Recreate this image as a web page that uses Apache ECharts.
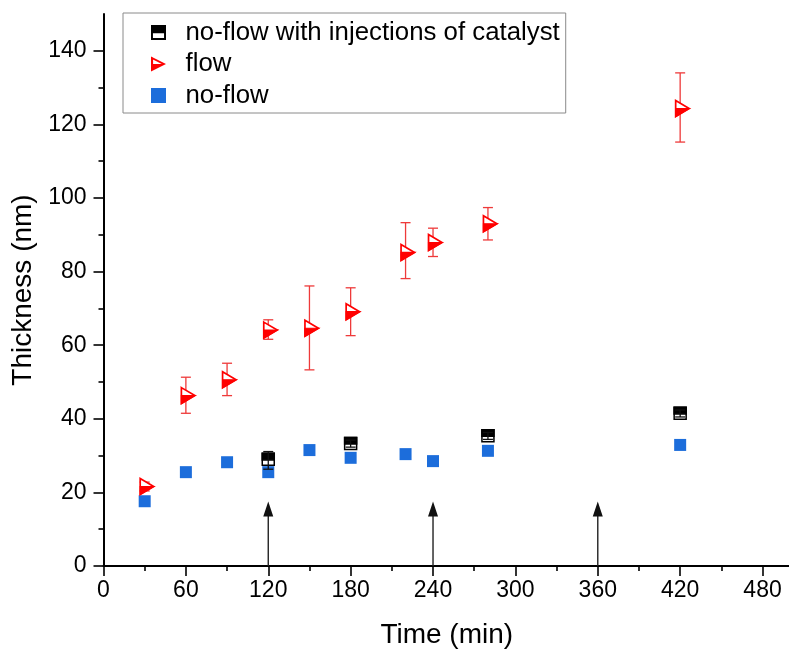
<!DOCTYPE html>
<html><head><meta charset="utf-8">
<script src="https://cdn.jsdelivr.net/npm/echarts@6/dist/echarts.min.js"></script>
<style>html,body{margin:0;padding:0;background:#fff}#c{width:789px;height:651px}</style>
</head><body><div id="c"></div>
<script>
// ---- data ----
const times = [30, 60, 90, 120, 150, 180, 220, 240, 280, 420];
const flowMean = [21.6, 46.3, 50.6, 64.1, 64.6, 69.1, 85.2, 87.9, 93.0, 124.3];
const flowLow  = [20.4, 41.5, 46.3, 61.6, 53.3, 62.6, 78.1, 84.1, 88.6, 115.2];
const flowHigh = [22.8, 51.3, 55.1, 66.9, 76.1, 75.6, 93.3, 91.8, 97.4, 134.0];
const noFlow   = [17.6, 25.5, 28.2, 25.5, 31.5, 29.4, 30.4, 28.5, 31.3, 32.9];
const injTimes = [120, 180, 280, 420];
const injMean  = [29.0, 33.3, 35.4, 41.5];
const injLow   = [26.3, 32.3, 34.4, 40.5];
const injHigh  = [31.1, 34.2, 36.3, 42.4];
const arrowTimes = [120, 240, 360];
const arrowTop = 17.5;
const xTicks = [0, 60, 120, 180, 240, 300, 360, 420, 480];
const xMinorTicks = [30, 90, 150, 210, 270, 330, 390, 450];
const yTicks = [0, 20, 40, 60, 80, 100, 120, 140];
const yMinorTicks = [10, 30, 50, 70, 90, 110, 130];
const names = ['no-flow with injections of catalyst', 'flow', 'no-flow'];

// ---- styles ----
const FONT = "'Liberation Sans', Arial, sans-serif";
const RED = '#ff0000';
const BLUE = '#1c6ddb';
const triIcon = 'path://M0 50L100 50L0 100Z M0 0L14 7L14 50L0 50Z M0 0L100 50L72 50L0 14Z';
const sqHalfIcon = 'path://M0 0L100 0L100 55L0 55Z M0 55L13 55L13 100L0 100Z M87 55L100 55L100 100L87 100Z M0 87L100 87L100 100L0 100Z';
const sqPath = 'path://M0 0L100 0L100 100L0 100Z';

function errRender(color, capW) {
  return function (params, api) {
    const x = api.value(0), lo = api.value(1), hi = api.value(2);
    const a = api.coord([x, lo]), b = api.coord([x, hi]);
    const h = capW / 2;
    const st = { stroke: color, lineWidth: 1.3 };
    return { type: 'group', children: [
      { type: 'line', shape: { x1: a[0], y1: a[1], x2: b[0], y2: b[1] }, style: st },
      { type: 'line', shape: { x1: a[0] - h, y1: a[1], x2: a[0] + h, y2: a[1] }, style: st },
      { type: 'line', shape: { x1: b[0] - h, y1: b[1], x2: b[0] + h, y2: b[1] }, style: st }
    ]};
  };
}
function triRender(params, api) {
  const c = api.coord([api.value(0), api.value(1)]);
  const w = 13.5, h = 16;
  const L = c[0] - w / 3, A = c[0] + 2 * w / 3, T = c[1] - h / 2, B = c[1] + h / 2;
  return { type: 'group', children: [
    { type: 'polygon', shape: { points: [[L, T], [A, c[1]], [L, B]] }, style: { fill: '#fff', stroke: RED, lineWidth: 1.7, lineJoin: 'miter' } },
    { type: 'polygon', shape: { points: [[L, c[1]], [A, c[1]], [L, B]] }, style: { fill: RED, stroke: RED, lineWidth: 1.2 } }
  ]};
}
function sqHalfRender(params, api) {
  const c = api.coord([api.value(0), api.value(1)]);
  const s = 12;
  const x0 = c[0] - s / 2, y0 = c[1] - s / 2;
  return { type: 'group', children: [
    { type: 'rect', shape: { x: x0, y: y0, width: s, height: s }, style: { fill: '#fff', stroke: '#000', lineWidth: 1.5 } },
    { type: 'rect', shape: { x: x0, y: y0, width: s, height: s * 0.55 }, style: { fill: '#000', stroke: '#000', lineWidth: 1.5 } }
  ]};
}
function arrowRender(params, api) {
  const x = api.value(0);
  const a = api.coord([x, api.value(1)]), b = api.coord([x, api.value(2)]);
  const hl = 15, hw = 5;
  return { type: 'group', children: [
    { type: 'line', shape: { x1: a[0], y1: a[1], x2: b[0], y2: b[1] + hl - 1 }, style: { stroke: '#222', lineWidth: 1.4 } },
    { type: 'polygon', shape: { points: [[b[0], b[1]], [b[0] - hw, b[1] + hl], [b[0] + hw, b[1] + hl]] }, style: { fill: '#111' } }
  ]};
}

const gridBox = { left: 103.5, top: 14, right: -1, bottom: 85, outerBoundsMode: 'none' };
const axisLineStyle = { color: '#000', width: 2 };

const option = {
  backgroundColor: '#fff',
  animation: false,
  textStyle: { fontFamily: FONT },
  grid: [Object.assign({}, gridBox), Object.assign({}, gridBox)],
  legend: {
    orient: 'vertical', left: 123, top: 13,
    padding: [6, 6, 4, 28], itemGap: 4.5, itemWidth: 44, itemHeight: 15,
    borderColor: '#8a8a8a', borderWidth: 1, selectedMode: false,
    textStyle: { fontSize: 25.8, color: '#000', fontFamily: FONT, lineHeight: 27 },
    data: [
      { name: names[0], icon: sqHalfIcon, itemStyle: { color: '#000' } },
      { name: names[1], icon: triIcon, itemStyle: { color: RED } },
      { name: names[2], icon: sqPath, itemStyle: { color: BLUE } }
    ]
  },
  xAxis: [{
    type: 'value', gridIndex: 0, min: 0, max: 500,
    name: 'Time (min)', nameLocation: 'middle', nameGap: 55,
    nameTextStyle: { fontSize: 28, color: '#000', fontFamily: FONT },
    axisLine: { lineStyle: axisLineStyle },
    axisTick: { show: true, customValues: xTicks, length: 10, lineStyle: { color: '#000', width: 1.6 } },
    axisLabel: { customValues: xTicks, fontSize: 23, color: '#000', margin: 13, fontFamily: FONT },
    splitLine: { show: false }
  }, {
    type: 'value', gridIndex: 1, min: 0, max: 500,
    axisLine: { show: false },
    axisTick: { show: true, customValues: xMinorTicks, length: 5, lineStyle: { color: '#000', width: 1.6 } },
    axisLabel: { show: false },
    splitLine: { show: false }
  }],
  yAxis: [{
    type: 'value', gridIndex: 0, min: 0, max: 150,
    name: 'Thickness (nm)', nameLocation: 'middle', nameGap: 57,
    nameTextStyle: { fontSize: 28, color: '#000', fontFamily: FONT },
    axisLine: { show: true, lineStyle: axisLineStyle },
    axisTick: { show: true, customValues: yTicks, length: 10, lineStyle: { color: '#000', width: 1.6 } },
    axisLabel: { customValues: yTicks, fontSize: 23, color: '#000', margin: 17, fontFamily: FONT },
    splitLine: { show: false }
  }, {
    type: 'value', gridIndex: 1, min: 0, max: 150,
    axisLine: { show: false },
    axisTick: { show: true, customValues: yMinorTicks, length: 5, lineStyle: { color: '#000', width: 1.6 } },
    axisLabel: { show: false },
    splitLine: { show: false }
  }],
  series: [
    { type: 'custom', name: 'arrows', xAxisIndex: 0, yAxisIndex: 0, renderItem: arrowRender,
      data: arrowTimes.map(t => [t, 0, arrowTop]), z: 1, silent: true },
    { type: 'scatter', name: names[2], xAxisIndex: 0, yAxisIndex: 0, symbol: sqPath, symbolSize: 12,
      itemStyle: { color: BLUE, opacity: 1 }, data: times.map((t, i) => [t, noFlow[i]]), z: 2 },
    { type: 'custom', name: names[0], xAxisIndex: 0, yAxisIndex: 0, renderItem: sqHalfRender,
      itemStyle: { color: '#000' }, data: injTimes.map((t, i) => [t, injMean[i]]), z: 3 },
    { type: 'custom', name: 'injErr', xAxisIndex: 0, yAxisIndex: 0, renderItem: errRender('#111', 10),
      data: injTimes.map((t, i) => [t, injLow[i], injHigh[i]]), z: 4, silent: true },
    { type: 'custom', name: 'flowErr', xAxisIndex: 0, yAxisIndex: 0, renderItem: errRender('#ee3a3a', 10),
      data: times.map((t, i) => [t, flowLow[i], flowHigh[i]]), z: 4, silent: true },
    { type: 'custom', name: names[1], xAxisIndex: 0, yAxisIndex: 0, renderItem: triRender,
      itemStyle: { color: RED }, data: times.map((t, i) => [t, flowMean[i]]), z: 5 }
  ]
};
const chart = echarts.init(document.getElementById('c'), null, { renderer: 'canvas' });
chart.setOption(option);
</script>
</body></html>
